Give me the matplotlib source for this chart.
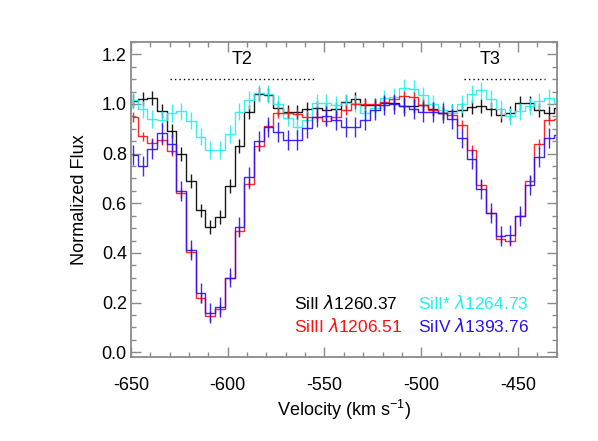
import numpy as np
import matplotlib
matplotlib.use('Agg')
import matplotlib.pyplot as plt
from matplotlib.ticker import MultipleLocator

plt.rcParams['font.family'] = ['Liberation Sans', 'DejaVu Sans']
plt.rcParams['mathtext.fontset'] = 'custom'
plt.rcParams['mathtext.it'] = 'DejaVu Sans:italic'
plt.rcParams['axes.unicode_minus'] = False

# velocity bin centres (km/s)
vel = np.arange(-649, -428, 5)

flux_siII = [1.012, 1.021, 1.025, 0.973, 0.891, 0.800, 0.688, 0.571, 0.505, 0.544,
             0.668, 0.830, 0.969, 1.040, 1.035, 0.985, 0.968, 0.968, 0.979, 0.983,
             0.976, 0.979, 1.009, 1.019, 0.996, 0.996, 1.003, 1.003, 0.992, 0.990,
             0.996, 0.979, 0.965, 0.970, 0.976, 0.988, 0.992, 0.979, 0.955, 0.965,
             1.003, 1.003, 0.976, 0.965, 0.982]
flux_siIIs = [1.015, 0.978, 0.939, 0.937, 0.963, 0.970, 0.933, 0.868, 0.814, 0.814,
              0.879, 0.969, 1.016, 1.043, 1.040, 1.000, 0.945, 0.908, 0.935, 1.005,
              1.005, 0.996, 1.005, 1.003, 0.965, 0.983, 1.023, 1.030, 1.065, 1.060,
              1.035, 1.000, 0.975, 0.965, 1.000, 1.040, 1.055, 1.020, 0.980, 0.950,
              0.970, 0.990, 1.010, 1.025, 1.005]
flux_siIII = [0.947, 0.869, 0.841, 0.855, 0.810, 0.643, 0.405, 0.217, 0.145, 0.173,
              0.301, 0.490, 0.679, 0.830, 0.910, 0.962, 0.965, 0.958, 0.949, 0.949,
              0.933, 0.949, 0.976, 0.999, 0.999, 0.999, 1.009, 1.020, 1.032, 1.028,
              0.996, 0.975, 0.965, 0.955, 0.915, 0.815, 0.672, 0.560, 0.458, 0.448,
              0.548, 0.690, 0.840, 0.934, 0.940]
flux_siIV = [0.796, 0.749, 0.819, 0.884, 0.840, 0.648, 0.412, 0.237, 0.159, 0.182,
             0.301, 0.503, 0.706, 0.851, 0.908, 0.888, 0.856, 0.855, 0.902, 0.949,
             0.951, 0.935, 0.908, 0.908, 0.935, 0.976, 0.996, 0.998, 0.990, 0.978,
             0.968, 0.968, 0.962, 0.940, 0.861, 0.780, 0.659, 0.560, 0.468, 0.472,
             0.550, 0.672, 0.788, 0.862, 0.875]

err_siII = 0.028
err_siIIs = 0.035
err_siIII = 0.02
err_siIV = 0.04

labels = [r'SiII $\lambda$1260.37', r'SiII* $\lambda$1264.73',
          r'SiIII $\lambda$1206.51', r'SiIV $\lambda$1393.76']
colors = ['black', '#22F0F0', '#FF1010', '#2A10F8']

fig = plt.figure(figsize=(5.98, 4.41), dpi=100)
ax = fig.add_axes([0.219, 0.190, 0.712, 0.715])

series = [(flux_siII, err_siII, colors[0]),
          (flux_siIIs, err_siIIs, colors[1]),
          (flux_siIII, err_siIII, colors[2]),
          (flux_siIV, err_siIV, colors[3])]
for flux, err, c in series:
    ax.step(vel, flux, where='mid', color=c, lw=1.0, alpha=0.9)
    ax.errorbar(vel, flux, yerr=err, fmt='none', ecolor=c, elinewidth=1.0, alpha=0.9)

# component markers
ax.plot([-630, -555], [1.10, 1.10], color='black', lw=1.0, dashes=(1, 2.2))
ax.plot([-478, -436], [1.10, 1.10], color='black', lw=1.0, dashes=(1, 2.2))
ax.text(-592.5, 1.18, 'T2', ha='center', va='center', fontsize=13)
ax.text(-464.5, 1.18, 'T3', ha='center', va='center', fontsize=13)

# labels in the lower right
ax.text(-566, 0.20, labels[0], color=colors[0], fontsize=12.5, va='center')
ax.text(-501.5, 0.20, labels[1], color=colors[1], fontsize=12.5, va='center')
ax.text(-566, 0.105, labels[2], color=colors[2], fontsize=12.5, va='center')
ax.text(-501.5, 0.105, labels[3], color=colors[3], fontsize=12.5, va='center')

ax.set_xlim(-650, -430)
ax.set_ylim(-0.02, 1.25)
ax.xaxis.set_major_locator(MultipleLocator(50))
ax.xaxis.set_minor_locator(MultipleLocator(10))
ax.yaxis.set_major_locator(MultipleLocator(0.2))
ax.yaxis.set_minor_locator(MultipleLocator(0.05))
ax.yaxis.set_major_formatter(matplotlib.ticker.FormatStrFormatter('%.1f'))

for s in ax.spines.values():
    s.set_color('#8a8a8a')
    s.set_linewidth(1.3)
ax.tick_params(which='both', direction='in', top=True, right=True,
               color='#8a8a8a', labelsize=13, width=1.0)
ax.tick_params(which='major', length=7)
ax.tick_params(which='minor', length=3.5)
ax.tick_params(axis='x', which='major', pad=14)
ax.tick_params(axis='y', which='major', pad=3)

ax.set_xlabel(r'Velocity (km s$^{\mathregular{-1}}$)', fontsize=13, labelpad=3)
ax.set_ylabel('Normalized Flux', fontsize=13, labelpad=10)

fig.savefig('out.png', dpi=100)
